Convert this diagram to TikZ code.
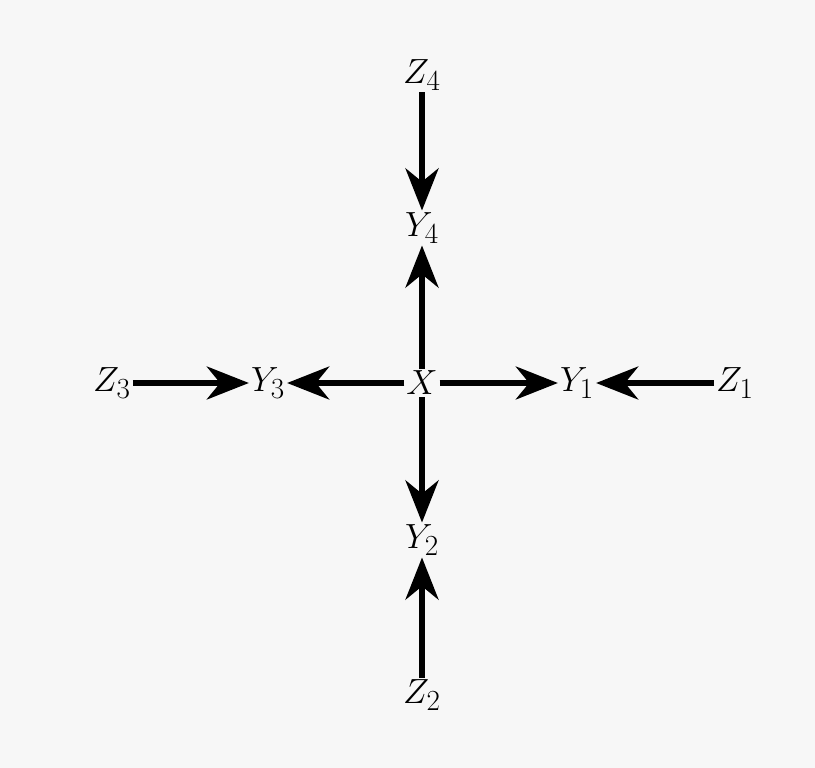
\documentclass[tikz,border=0pt]{standalone}
\usetikzlibrary{arrows.meta}
\begin{document}
\begin{tikzpicture}[
	x=0.025cm,
	y=-0.025cm,
	font=\fontsize{28}{32}\selectfont,
	var/.style={inner sep=1.5pt, outer sep=0pt},
	edge/.style={line width=4.6pt,
		-{Stealth[length=1.05cm, width=0.82cm, inset=0.33cm]}}
	]
	% --- page ---
	\fill[gray!6] (0,0) rectangle (815,768);
	\useasboundingbox (0,0) rectangle (815,768);

	% centre
	\node[var] (X) at (422,383) {$X$};

	% inner ring: Y_1 right, Y_2 below, Y_3 left, Y_4 above
	\foreach \n/\x/\y in {1/577/383, 2/422/540, 3/268/383, 4/422/228} {
		\node[var] (Y\n) at (\x,\y) {$Y_{\n}$};
	}
	% outer ring
	\foreach \n/\x/\y in {1/735/383, 2/422/695, 3/112/383, 4/422/75} {
		\node[var] (Z\n) at (\x,\y) {$Z_{\n}$};
	}

	% X -> Y_i <- Z_i
	\foreach \n in {1,...,4} {
		\draw[edge] (X) -- (Y\n);
		\draw[edge] (Z\n) -- (Y\n);
	}
\end{tikzpicture}
\end{document}
